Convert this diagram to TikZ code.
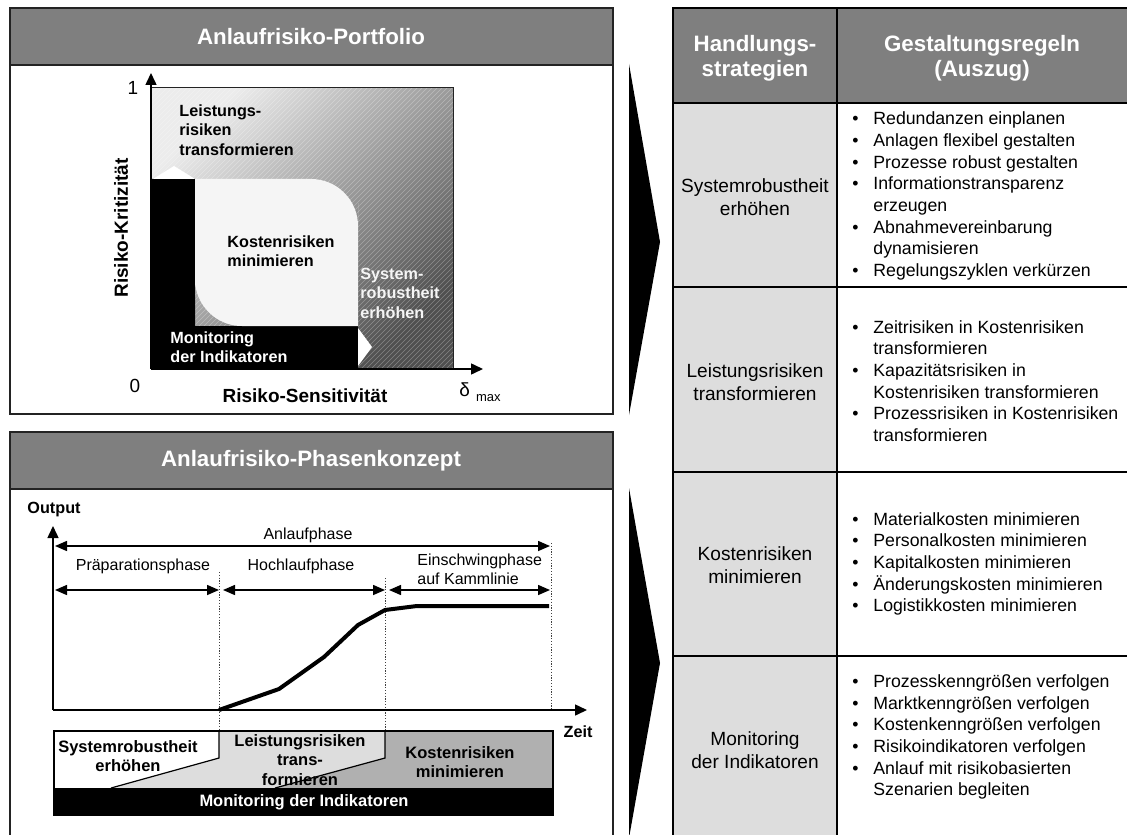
\documentclass[tikz,border=0pt]{standalone}
\usepackage{fontspec}
\setmainfont{Liberation Sans}
\usetikzlibrary{arrows.meta}
\definecolor{riskgray}{RGB}{127,127,127}
\definecolor{risklight}{RGB}{221,221,221}
\definecolor{riskmid}{RGB}{176,176,176}
\definecolor{riskpale}{RGB}{245,245,245}
\definecolor{riskline}{RGB}{35,35,35}
\definecolor{portlight}{RGB}{236,236,236}
\definecolor{portdark}{RGB}{80,80,80}
\newcommand{\bul}{\makebox[10.5pt][l]{•}}
\newcommand{\nob}{\hspace*{10.5pt}}

\begin{document}
\begin{tikzpicture}[x=0.5pt,y=-0.5pt,
  title/.style={font=\fontsize{11.15}{12.5}\selectfont\bfseries,text=white,align=center,inner sep=0pt},
  strat/.style={font=\fontsize{9.55}{11.5}\selectfont,align=center,inner sep=0pt},
  rules/.style={font=\fontsize{8.85}{10.85}\selectfont,align=left,inner sep=0pt,anchor=west},
  zone/.style={font=\fontsize{8.1}{9.75}\selectfont\bfseries,align=left,inner sep=0pt,anchor=west},
  axlabel/.style={font=\fontsize{9.5}{11}\selectfont\bfseries,inner sep=0pt},
  axnum/.style={font=\fontsize{9.5}{11}\selectfont,inner sep=0pt},
  phase/.style={font=\fontsize{8}{9.5}\selectfont,inner sep=0pt},
  band/.style={font=\fontsize{8.25}{9.9}\selectfont\bfseries,align=center,inner sep=0pt},
  frame/.style={draw=riskline,line width=0.75pt},
  tabline/.style={draw=black,line width=0.6pt},
  axarrow/.style={line width=0.75pt,-{Triangle[length=6pt,width=5.5pt]}},
  dimarrow/.style={line width=0.75pt,{Triangle[length=6pt,width=5pt]}-{Triangle[length=6pt,width=5pt]}},
  guide/.style={draw=black!75,line width=0.4pt,dash pattern=on 0.6pt off 0.8pt}]
\clip (0,0) rectangle (1127,834);
\fill[white] (0,0) rectangle (1127,834);

% Anlaufrisiko-Portfolio
\fill[riskgray] (10,8) rectangle (613,65);
\draw[frame] (10,8) rectangle (613,414);
\draw[frame] (10,65) -- (613,65);
\node[title] (porttitle) at (311,37) {Anlaufrisiko-Portfolio};
\shade[top color=portlight,bottom color=portdark,shading angle=45] (151,88) rectangle (453,369);
\begin{scope}
  \clip (151,88) rectangle (453,369);
  \foreach \k in {-134,-129,...,456}
    \draw[white,opacity=0.3,line width=0.25pt] (\k,369) -- ++(290,-290);
\end{scope}
\draw[riskline,line width=0.5pt] (151,88) rectangle (453,369);
\fill[black] (151,179) -- (195,179) -- (195,326) -- (358,326) -- (358,369) -- (151,369) -- cycle;
\fill[riskpale] (195,179) [rounded corners=23.5pt] -- (358,179) -- (358,250) [sharp corners] -- (358,326)
  -- (260,326) [rounded corners=23.5pt] -- (195,326) -- (195,250) [sharp corners] -- cycle;
\fill[white] (153,179) -- (174,166) -- (195,179) -- cycle;
\fill[white] (358,328) -- (372,347) -- (358,366) -- cycle;
\coordinate (porto) at (151,369);
\coordinate (porty) at (151,73);
\coordinate (portx) at (483,369);
\draw[axarrow] (porto) -- (porty);
\draw[axarrow] (porto) -- (portx);
\node[zone] (leistzone) at (179,130) {Leistungs-\\risiken\\transformieren};
\node[zone] (kostzone) at (227,251) {Kostenrisiken\\minimieren};
\node[zone,text=riskpale] (syszone) at (360,293) {System-\\robustheit\\erhöhen};
\node[zone,text=white] (monzone) at (170,347) {Monitoring\\der Indikatoren};
\node[axlabel,rotate=90] (critlabel) at (121,228) {Risiko-Kritizität};
\node[axlabel] (senslabel) at (305,396) {Risiko-Sensitivität};
\node[axnum] (critone) at (133,88) {1};
\node[axnum] (critzero) at (135,386) {0};
\node[axnum] (deltamax) at (480,392) {δ\hspace{3pt}\raisebox{-2.5pt}{\fontsize{6.5}{7}\selectfont max}};

% Anlaufrisiko-Phasenkonzept
\fill[riskgray] (10,432) rectangle (613,489);
\draw[frame] (10,840) -- (10,432) -- (613,432) -- (613,840);
\draw[frame] (10,489) -- (613,489);
\node[title] (phasetitle) at (311,461) {Anlaufrisiko-Phasenkonzept};
\coordinate (phaseo) at (53,710);
\coordinate (phasey) at (53,526);
\coordinate (phasex) at (587,710);
\draw[guide] (219,572) -- (219,731);
\draw[guide] (385,578) -- (385,731);
\draw[guide] (551,543) -- (551,710);
\draw[axarrow] (phaseo) -- (phasey);
\draw[axarrow] (phaseo) -- (phasex);
\node[axlabel,font=\fontsize{8.1}{9.75}\selectfont\bfseries] (outlabel) at (54,510) {Output};
\node[axlabel,font=\fontsize{8.1}{9.75}\selectfont\bfseries] (zeitlabel) at (578,732) {Zeit};
\coordinate (anlL) at (55,546);
\coordinate (anlR) at (550,546);
\coordinate (praL) at (55,590);
\coordinate (praR) at (219,590);
\coordinate (hochL) at (223,590);
\coordinate (hochR) at (385,590);
\coordinate (einL) at (389,590);
\coordinate (einR) at (550,590);
\draw[dimarrow] (anlL) -- (anlR);
\draw[dimarrow] (praL) -- (praR);
\draw[dimarrow] (hochL) -- (hochR);
\draw[dimarrow] (einL) -- (einR);
\node[phase] (anllabel) at (308,535) {Anlaufphase};
\node[phase] (pralabel) at (143,566) {Präparationsphase};
\node[phase] (hochlabel) at (301,566) {Hochlaufphase};
\node[phase,align=left,anchor=west] (einlabel) at (417,569) {Einschwingphase\\auf Kammlinie};
\draw[line width=2pt] (219,710) -- (279,689) -- (324,657) -- (358,625) -- (385,610) -- (417,606) -- (549,606);
% Strategien im Zeitverlauf
\fill[white] (54,731) -- (219,731) -- (219,758) -- (111,788) -- (54,788) -- cycle;
\fill[risklight] (219,731) -- (385,731) -- (385,758) -- (275,788) -- (111,788) -- (219,758) -- cycle;
\fill[riskmid] (385,731) -- (553,731) -- (553,788) -- (275,788) -- (385,758) -- cycle;
\draw[tabline] (219,731) -- (219,758) -- (111,788);
\draw[tabline] (385,731) -- (385,758) -- (275,788);
\fill[black] (54,788) rectangle (553,815);
\draw[tabline] (54,731) rectangle (553,815);
\node[band] (sysband) at (128,756) {Systemrobustheit\\erhöhen};
\node[band] (leistband) at (300,760) {Leistungsrisiken\\trans-\\formieren};
\node[band] (kostband) at (460,762) {Kostenrisiken\\minimieren};
\node[band,text=white] (monband) at (304,802) {Monitoring der Indikatoren};

% Pfeile
\fill[black] (629,64) -- (660,242) -- (629,415) -- cycle;
\fill[black] (629,488) -- (660,663) -- (629,838) -- cycle;

% Handlungsstrategien und Gestaltungsregeln
\fill[riskgray] (673,8) rectangle (1130,103);
\fill[risklight] (673,103) rectangle (837,840);
\draw[tabline] (1130,8) -- (673,8) -- (673,840);
\draw[tabline] (837,8) -- (837,840);
\draw[tabline] (673,103) -- (1130,103);
\draw[tabline] (673,287) -- (1130,287);
\draw[tabline] (673,472) -- (1130,472);
\draw[tabline] (673,656) -- (1130,656);
\node[title] (strathead) at (755,58) {Handlungs-\\strategien};
\node[title] (rulehead) at (982,58) {Gestaltungsregeln\\(Auszug)};
\node[strat] (sysstrat) at (755,197) {Systemrobustheit\\erhöhen};
\node[strat] (leiststrat) at (755,382) {Leistungsrisiken\\transformieren};
\node[strat] (koststrat) at (755,565) {Kostenrisiken\\minimieren};
\node[strat] (monstrat) at (755,750) {Monitoring\\der Indikatoren};
\node[rules] (sysrules) at (852,196) {\bul Redundanzen einplanen\\\bul Anlagen flexibel gestalten\\\bul Prozesse robust gestalten\\\bul Informationstransparenz\\\nob erzeugen\\\bul Abnahmevereinbarung\\\nob dynamisieren\\\bul Regelungszyklen verkürzen};
\node[rules] (leistrules) at (852,381) {\bul Zeitrisiken in Kostenrisiken\\\nob transformieren\\\bul Kapazitätsrisiken in\\\nob Kostenrisiken transformieren\\\bul Prozessrisiken in Kostenrisiken\\\nob transformieren};
\node[rules] (kostrules) at (852,564) {\bul Materialkosten minimieren\\\bul Personalkosten minimieren\\\bul Kapitalkosten minimieren\\\bul Änderungskosten minimieren\\\bul Logistikkosten minimieren};
\node[rules] (monrules) at (852,737) {\bul Prozesskenngrößen verfolgen\\\bul Marktkenngrößen verfolgen\\\bul Kostenkenngrößen verfolgen\\\bul Risikoindikatoren verfolgen\\\bul Anlauf mit risikobasierten\\\nob Szenarien begleiten};
\end{tikzpicture}
\end{document}
